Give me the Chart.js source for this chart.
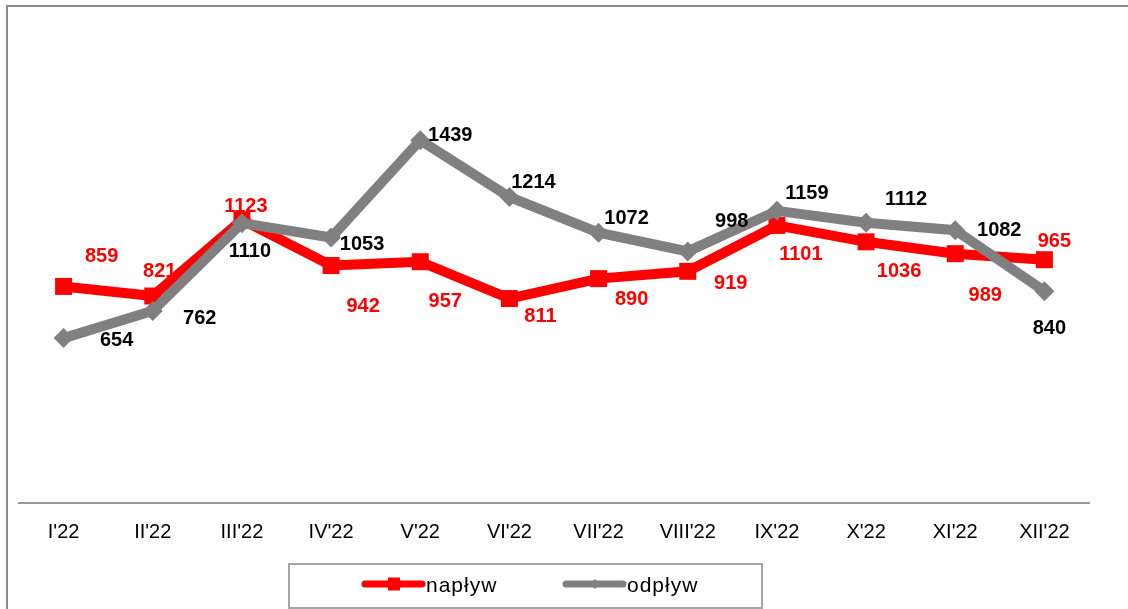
<!DOCTYPE html>
<html>
<head>
<meta charset="utf-8">
<script src="https://cdn.jsdelivr.net/npm/chart.js@4"></script>
<style>
	html, body { margin: 0; padding: 0; background: #fff; }
	#wrap { width: 1128px; height: 609px; }
</style>
</head>
<body>
<div id="wrap"><canvas id="chart" width="1128" height="609"></canvas></div>
<script>
const months = ["I'22", "II'22", "III'22", "IV'22", "V'22", "VI'22", "VII'22", "VIII'22", "IX'22", "X'22", "XI'22", "XII'22"];
const naplyw = [859, 821, 1123, 942, 957, 811, 890, 919, 1101, 1036, 989, 965];
const odplyw = [654, 762, 1110, 1053, 1439, 1214, 1072, 998, 1159, 1112, 1082, 840];

// where each value label sits, relative to its point (px)
const naplywLabelOffsets = [[38, -30], [7, -25], [4, -13], [32, 41], [25, 40], [31, 18], [33, 21], [43, 12], [24, 29], [33, 30], [30, 42], [10, -18]];
const odplywLabelOffsets = [[53, 2], [47, 8], [8, 28], [31, 7], [30, -5], [24, -14], [28, -14], [44, -30], [30, -17], [40, -23], [44, 0], [5, 37]];

const red = "#ff0000";
const grey = "#808080";
const fontFamily = "'Liberation Sans', Arial, sans-serif";

const frame = {
	id: 'frame',
	beforeDraw(chart) {
		const ctx = chart.ctx;
		ctx.save();
		ctx.strokeStyle = "#8c8c8c";
		ctx.lineWidth = 2;
		ctx.beginPath();
		ctx.moveTo(7, 609);
		ctx.lineTo(7, 6);
		ctx.lineTo(1128, 6);
		ctx.stroke();
		ctx.restore();
	}
};

const valueLabels = {
	id: 'valueLabels',
	afterDatasetsDraw(chart) {
		const ctx = chart.ctx;
		ctx.save();
		ctx.font = "bold 20px " + fontFamily;
		ctx.textAlign = "center";
		ctx.textBaseline = "middle";
		chart.data.datasets.forEach((ds, i) => {
			const meta = chart.getDatasetMeta(i);
			ctx.fillStyle = ds.labelColor;
			meta.data.forEach((pt, j) => {
				const off = ds.labelOffsets[j];
				ctx.fillText(String(ds.data[j]), pt.x + off[0], pt.y + off[1]);
			});
		});
		ctx.restore();
	}
};

const boxLegend = {
	id: 'boxLegend',
	afterDraw(chart) {
		const ctx = chart.ctx;
		ctx.save();
		ctx.strokeStyle = "#a6a6a6";
		ctx.lineWidth = 2;
		ctx.strokeRect(289, 564, 473, 44);
		const y = 584;
		chart.data.datasets.forEach((ds, i) => {
			const x0 = 365 + i * 201;
			ctx.strokeStyle = ds.borderColor;
			ctx.lineWidth = 7;
			ctx.lineCap = "round";
			ctx.beginPath();
			ctx.moveTo(x0, y);
			ctx.lineTo(x0 + 57, y);
			ctx.stroke();
			ctx.fillStyle = ds.borderColor;
			if (ds.pointStyle === 'rect') {
				ctx.fillRect(x0 + 23, y - 6.5, 12, 13);
			} else {
				ctx.beginPath();
				ctx.moveTo(x0 + 29, y - 5);
				ctx.lineTo(x0 + 34, y);
				ctx.lineTo(x0 + 29, y + 5);
				ctx.lineTo(x0 + 24, y);
				ctx.closePath();
				ctx.fill();
			}
			ctx.fillStyle = "#000";
			ctx.font = "21px " + fontFamily;
			ctx.letterSpacing = "1px";
			ctx.textAlign = "left";
			ctx.textBaseline = "middle";
			ctx.fillText(ds.label, x0 + 61, y + 2);
		});
		ctx.restore();
	}
};

const chart = new Chart(document.getElementById('chart'), {
	type: 'line',
	data: {
		labels: months,
		datasets: [
		{
			label: 'napływ',
			data: naplyw,
			borderColor: red,
			backgroundColor: red,
			borderWidth: 10,
			borderJoinStyle: 'miter',
			pointStyle: 'rect',
			pointRadius: 12,
			pointBorderWidth: 0,
			labelColor: red,
			labelOffsets: naplywLabelOffsets,
			order: 2
		}, {
			label: 'odpływ',
			data: odplyw,
			borderColor: grey,
			backgroundColor: grey,
			borderWidth: 10,
			borderJoinStyle: 'miter',
			pointStyle: 'rectRot',
			pointRadius: 10,
			pointBorderWidth: 0,
			labelColor: "#000",
			labelOffsets: odplywLabelOffsets,
			order: 1
		}]
	},
	options: {
		responsive: false,
		animation: false,
		devicePixelRatio: 1,
		layout: {
			padding: { left: 19, right: 39, top: 24, bottom: 48 }
		},
		scales: {
			x: {
				offset: true,
				grid: { display: false, drawTicks: false },
				border: { display: true, color: "#999999", width: 2 },
				ticks: {
					color: "#000",
					padding: 17,
					font: { family: fontFamily, size: 20 }
				}
			},
			y: {
				display: false,
				min: 0,
				max: 1900
			}
		},
		plugins: {
			legend: { display: false },
			tooltip: { enabled: false }
		}
	},
	plugins: [frame, valueLabels, boxLegend]
});
</script>
</body>
</html>
